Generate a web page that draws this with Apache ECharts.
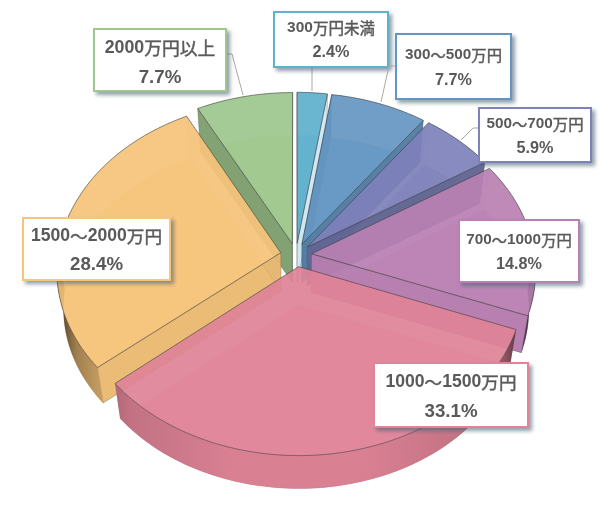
<!DOCTYPE html>
<html><head><meta charset="utf-8">
<style>html,body{margin:0;padding:0;background:#fff}#c{width:600px;height:519px}</style>
<script src="https://cdn.jsdelivr.net/npm/echarts@6/dist/echarts.min.js"></script>
</head><body><div id="c"></div>
<script>
// ---- data ----
var categories = ['300万円未満','300〜500万円','500〜700万円','700〜1000万円','1000〜1500万円','1500〜2000万円','2000万円以上'];
var percents   = [2.4, 7.7, 5.9, 14.8, 33.1, 28.4, 7.7];
// ---- styles ----
var colors = ['#5fb1cc','#6496c3','#7e82bb','#b981b3','#e08498','#f6c47a','#9dc78c'];
var boxes = [ // x,y,w,h, title y, value y, title font, value font
  [274,12,114,55,28,53,15.5,16.2],
  [396,34,115,65,55,81,15.3,16.2],
  [479,108,112,54,124,149,15.3,16.2],
  [459,220,120,62,240,265,15.3,16.2],
  [374,363,154,64,382,412,17.6,18.7],
  [23,218,147,62,236,265,17.6,18.7],
  [94,29,132,62,48,78,17.8,18.7]
];
var leaders = [
  [[312,67],[312,91]],
  [[396,66],[389,66],[381,102]],
  [[478,128],[473,128],[461,140]],
  null, null, null,
  [[227,54],[232,54],[243,95]]
];
var cx=296, cy=255, A=223, B=168, P=0.098, EXPL=0.07, BS=0.972, VY=1632;
function proj(X,Z,bottom){
  var s=1/(1+P*Z), x=cx+A*X*s, y=cy-B*Z*s;
  if(bottom){x=cx+(x-cx)*BS; y=VY+(y-VY)*BS;}
  return [x,y];
}
function hex(c){return [parseInt(c.substr(1,2),16),parseInt(c.substr(3,2),16),parseInt(c.substr(5,2),16)];}
function shade(c,f,a){var h=hex(c);
  var r=h.map(function(v){return Math.round(f<=1?v*f:v+(255-v)*(f-1));});
  return 'rgba('+r[0]+','+r[1]+','+r[2]+','+(a==null?1:a)+')';}
var rad=Math.PI/180;
var slices=[],acc=0;
percents.forEach(function(p,i){
  var s=acc*3.6,e=(acc+p)*3.6; acc+=p;
  slices.push({i:i,s:s,e:e,mid:(s+e)/2});
});
var drawOrder=slices.slice().sort(function(a,b){return Math.cos(b.mid*rad)-Math.cos(a.mid*rad);});
var seriesData=drawOrder.map(function(sl){return [sl.i,percents[sl.i]];});

function radialShade(n){ // n: wall normal direction, degrees clockwise from far side
  n=((n%360)+360)%360;
  if(n<115&&n>=80) return 1.72;
  if(n>=115&&n<135) return 0.83;
  if(n>=135&&n<145) return 0.95;
  if(n>=145&&n<170) return 0.78;
  if(n>=170&&n<215) return 0.98;
  if(n>=215&&n<265) return 0.8;
  return 0.9;
}
function arcShade(sinv){
  var t=Math.abs(sinv);
  if(t<0.3) return 0.97;
  if(t<0.77) return 0.97-(t-0.3)/0.47*0.11;
  if(t<0.93) return 0.86-(t-0.77)/0.16*0.23;
  return 0.63-(t-0.93)/0.07*0.33;
}
function renderSlice(params,api){
  var idx=api.value(0), sl=slices[idx], col=colors[idx];
  var ox=EXPL*Math.sin(sl.mid*rad), oz=EXPL*Math.cos(sl.mid*rad);
  function pt(th,b,r){r=r==null?1:r;return proj(ox+r*Math.sin(th*rad),oz+r*Math.cos(th*rad),b);}
  var topArc=[],botArc=[],backTop=[],backBot=[],frontTop=[],frontBot=[];
  for(var t=sl.s;;t=Math.min(t+1.5,sl.e)){
    topArc.push(pt(t,false));botArc.push(pt(t,true));
    if(Math.cos(t*rad)>=0){backTop.push(pt(t,false));backBot.push(pt(t,true));}
    if(Math.cos(t*rad)<=0.02){frontTop.push(pt(t,false));frontBot.push(pt(t,true));}
    if(t>=sl.e)break;
  }
  var apexT=proj(ox,oz,false), apexB=proj(ox,oz,true);
  var line='rgba(60,60,60,0.7)', faint='rgba(60,60,60,0.10)';
  var kids=[];
  kids.push({type:'polygon',shape:{points:[apexB].concat(botArc)},style:{fill:shade(col,1,0.72),stroke:faint,lineWidth:0.8}});
  function radial(th,n){
    var a=pt(th,false),b=pt(th,true);
    var f=radialShade(n), fr=Math.cos(n*rad)<0.2;
    return {type:'polygon',shape:{points:[apexT,a,b,apexB]},style:{fill:shade(col,f,fr?0.95:0.42),stroke:fr?'rgba(60,60,60,0.35)':faint,lineWidth:0.7}};
  }
  if(backTop.length>1){
    kids.push({type:'polygon',shape:{points:backTop.concat(backBot.slice().reverse())},style:{fill:shade(col,0.98,0.4),stroke:faint,lineWidth:0.7}});
  }
  kids.push(radial(sl.s,sl.s-90),radial(sl.e,sl.e+90));
  if(frontTop.length>1){
    var stops=[],n=24,xL=proj(ox-1,oz,false)[0],xR=proj(ox+1,oz,false)[0];
    for(var k=0;k<=n;k++){var u=k/n,sv=-1+2*u;stops.push({offset:u,color:shade(col,arcShade(sv))});}
    kids.push({type:'polygon',shape:{points:frontTop.concat(frontBot.slice().reverse())},
      style:{fill:{type:'linear',x:xL,y:0,x2:xR,y2:0,global:true,colorStops:stops},stroke:null}});
    kids.push({type:'polyline',shape:{points:frontBot},style:{fill:null,stroke:'rgba(60,60,60,0.1)',lineWidth:0.6}});
  }
  kids.push({type:'polygon',shape:{points:[apexT].concat(topArc)},style:{fill:shade(col,1,0.88),stroke:line,lineWidth:0.8,lineJoin:'round'}});
  return {type:'group',children:kids};
}
function richTitle(s){ // latin bold, CJK lighter: split into two rich runs
  return s.replace(/[0-9]+/g,function(m){return '{d|'+m+'}';}).replace(/[^0-9{}d|]+/g,function(m){return '{c|'+m+'}';});
}
function renderLabel(params,api){
  var idx=api.value(0),b=boxes[idx],col=colors[idx],kids=[];
  if(leaders[idx]) kids.push({type:'polyline',shape:{points:leaders[idx]},style:{fill:null,stroke:'#a8a8a8',lineWidth:1}});
  kids.push({type:'rect',shape:{x:b[0]-1,y:b[1]-1,width:b[2]+2,height:b[3]+2},
    style:{fill:'#fff',shadowBlur:4,shadowOffsetX:3,shadowOffsetY:3,shadowColor:'rgba(70,95,115,0.6)'}});
  kids.push({type:'rect',shape:{x:b[0],y:b[1],width:b[2],height:b[3]},style:{fill:'#fff',stroke:col,lineWidth:2}});
  var mx=b[0]+b[2]/2, ff='"Liberation Sans","Noto Sans CJK JP",sans-serif';
  kids.push({type:'text',style:{text:richTitle(categories[idx]),x:mx,y:b[4],align:'center',verticalAlign:'middle',
    rich:{
      d:{fontFamily:'"Liberation Sans"',fontWeight:'bold',fontSize:b[6],fill:'#595959'},
      c:{fontFamily:'"Noto Sans CJK JP"',fontWeight:'normal',fontSize:b[6],fill:'#595959',stroke:'#595959',lineWidth:0.45}
    }}});
  kids.push({type:'text',style:{text:api.value(1).toFixed(1)+'%',x:mx,y:b[5],fill:'#595959',align:'center',verticalAlign:'middle',
    font:'bold '+b[7]+'px '+ff}});
  return {type:'group',children:kids};
}
var chart=echarts.init(document.getElementById('c'),null,{renderer:'canvas'});
chart.setOption({
  backgroundColor:'#fff',animation:false,
  series:[
    {type:'custom',coordinateSystem:'none',silent:true,z:2,renderItem:renderSlice,data:seriesData},
    {type:'custom',coordinateSystem:'none',silent:true,z:5,renderItem:renderLabel,data:seriesData}
  ]
});
</script></body></html>
